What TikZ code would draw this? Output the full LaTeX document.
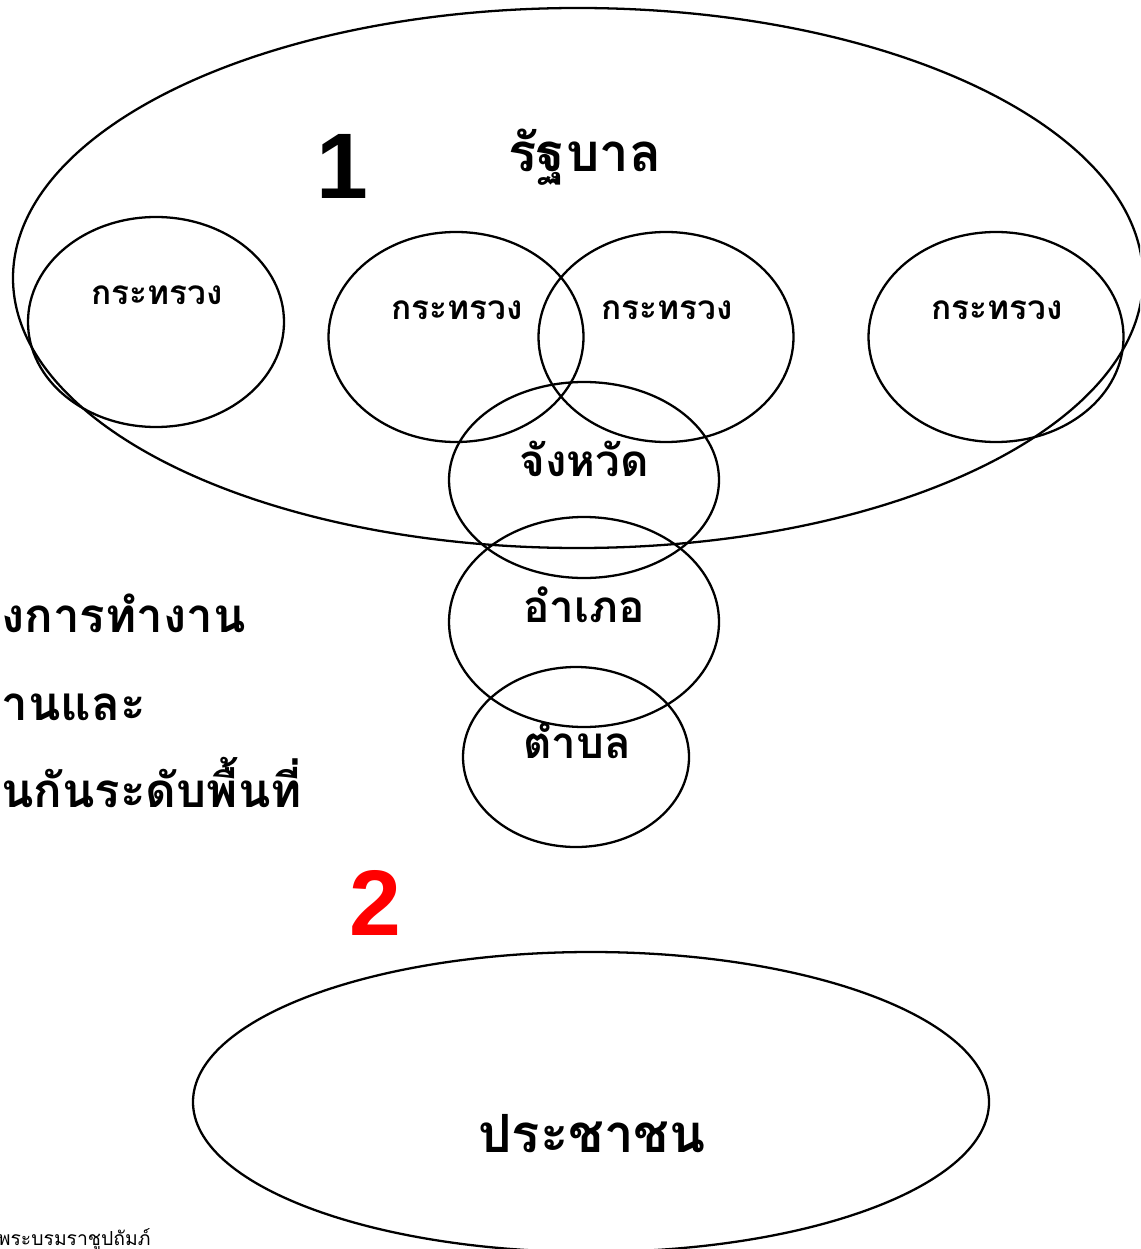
\documentclass[tikz,border=0pt]{standalone}
\usepackage{fontspec}
\setmainfont{Liberation Sans}
\newfontfamily\thaifont[Script=Thai]{Loma}
\usetikzlibrary{shapes.geometric}
\begin{document}
\begin{tikzpicture}[
    oval/.style={draw,ellipse,line width=1.3pt,inner sep=0pt},
    bigthai/.style={font=\thaifont\bfseries\fontsize{30}{36}\selectfont,inner sep=0pt,anchor=base},
    cellthai/.style={font=\thaifont\bfseries\fontsize{25}{30}\selectfont,inner sep=0pt,anchor=base},
    midthai/.style={font=\thaifont\bfseries\fontsize{19}{23}\selectfont,inner sep=0pt,anchor=base},
    sidethai/.style={font=\thaifont\bfseries\fontsize{27}{32}\selectfont,inner sep=0pt,anchor=base west},
    numlabel/.style={font=\bfseries\fontsize{53}{60}\selectfont,inner sep=0pt}
  ]
      \useasboundingbox (0,0) rectangle (22.8,-24.98);
      \clip (0,0) rectangle (22.8,-24.98);
      \node[oval,minimum width=22.6cm,minimum height=10.8cm] (gov) at (11.56,-5.56) {};
      \node[oval,minimum width=5.12cm,minimum height=4.2cm] (m1) at (3.12,-6.44) {};
      \node[oval,minimum width=5.1cm,minimum height=4.2cm] (m2) at (9.12,-6.74) {};
      \node[oval,minimum width=5.1cm,minimum height=4.2cm] (m3) at (13.32,-6.74) {};
      \node[oval,minimum width=5.1cm,minimum height=4.2cm] (m4) at (19.92,-6.74) {};
      \node[oval,minimum width=5.4cm,minimum height=3.92cm] (prov) at (11.68,-9.6) {};
      \node[oval,minimum width=5.4cm,minimum height=4.2cm] (dist) at (11.68,-12.44) {};
      \node[oval,minimum width=4.52cm,minimum height=3.6cm] (sub) at (11.52,-15.14) {};
      \node[oval,minimum width=15.92cm,minimum height=6.0cm] (people) at (11.82,-22.04) {};
      \node[numlabel] (n1) at (6.84,-3.33) {1};
      \node[numlabel,red] (n2) at (7.5,-18.06) {2};
      \node[bigthai] (govt) at (11.7,-3.44) {รัฐบาล};
      \node[midthai] (m1t) at (3.14,-6.1) {กระทรวง};
      \node[midthai] (m2t) at (9.14,-6.4) {กระทรวง};
      \node[midthai] (m3t) at (13.34,-6.4) {กระทรวง};
      \node[midthai] (m4t) at (19.94,-6.4) {กระทรวง};
      \node[cellthai] (provt) at (11.68,-9.52) {จังหวัด};
      \node[cellthai] (distt) at (11.68,-12.44) {อำเภอ};
      \node[cellthai] (subt) at (11.54,-15.16) {ตำบล};
      \node[bigthai] (peoplet) at (11.84,-23.04) {ประชาชน};
      \node[sidethai] (s1) at (0.02,-12.64) {งการทำงาน};
      \node[sidethai] (s2) at (0.02,-14.4) {านและ};
      \node[sidethai] (s3) at (0.02,-16.14) {นกันระดับพื้นที่};
      \node[font=\thaifont\fontsize{11}{13}\selectfont,inner sep=0pt,anchor=base west] (foot) at (-0.05,-24.9) {พระบรมราชูปถัมภ์};
    \end{tikzpicture}
\end{document}
